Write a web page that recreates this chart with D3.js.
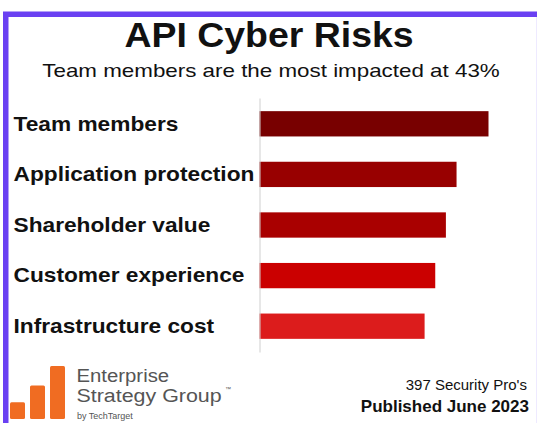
<!DOCTYPE html>
<html>
<head>
<meta charset="utf-8">
<script src="https://cdn.jsdelivr.net/npm/d3@7"></script>
<style>
  body { margin: 0; background: #fff; }
  svg { display: block; font-family: "Liberation Sans", Arial, sans-serif; }
</style>
</head>
<body>
<div id="chart"></div>
<script>
const width = 537;
const height = 423;

// chart data
const categories = ["Team members", "Application protection", "Shareholder value", "Customer experience", "Infrastructure cost"];
const values = [43, 37, 35, 33, 31];
const palette = ["#780000", "#980000", "#a90000", "#cb0000", "#dc1c1c"];

const title = "API Cyber Risks";
const subtitle = "Team members are the most impacted at 43%";
const sampleNote = "397 Security Pro's";
const published = "Published June 2023";
const logoLines = ["Enterprise", "Strategy Group"];

// logo bar heights (relative)
const logoBars = [0.95, 1.9, 3];

const svg = d3.select("#chart")
  .append("svg")
  .attr("width", width)
  .attr("height", height);

// text drawn with a horizontal stretch around its anchor point
function stretchedText(parent, tx, ty, sx, str) {
  return parent.append("text")
    .attr("transform", `translate(${tx},${ty}) scale(${sx},1)`)
    .text(str);
}

// frame: purple left and top border
svg.append("rect")
  .attr("x", 3).attr("y", 11.5)
  .attr("width", width).attr("height", height)
  .attr("fill", "#fff")
  .attr("stroke", "#6a40f2")
  .attr("stroke-width", 5.5)
  .attr("transform", "translate(2.75,2.75)");

svg.append("line")
  .attr("x1", 536.5).attr("x2", 536.5)
  .attr("y1", 17).attr("y2", height)
  .attr("stroke", "#eeeaff");

stretchedText(svg, 269, 47, 1.07, title)
  .attr("text-anchor", "middle")
  .attr("font-size", 35)
  .attr("font-weight", "bold")
  .attr("fill", "#111");

stretchedText(svg, 271, 76.5, 1.21, subtitle)
  .attr("text-anchor", "middle")
  .attr("font-size", 18.5)
  .attr("fill", "#111");

const x = d3.scaleLinear()
  .domain([0, 43])
  .range([0, 229]);

const y = d3.scaleBand()
  .domain(categories)
  .range([98, 352])
  .paddingInner(0.5)
  .paddingOuter(0.26);

const color = d3.scaleOrdinal()
  .domain(categories)
  .range(palette);

const x0 = 259.5;

svg.selectAll(".bar")
  .data(categories)
  .join("rect")
  .attr("class", "bar")
  .attr("x", x0)
  .attr("y", d => y(d))
  .attr("width", (d, i) => x(values[i]))
  .attr("height", y.bandwidth())
  .attr("fill", d => color(d));

// axis line
const axis = svg.append("g")
  .attr("transform", `translate(${x0},0)`)
  .call(d3.axisLeft(y).tickSize(0).tickSizeOuter(0).tickFormat(""));
axis.select(".domain").attr("stroke", "#cfcfcf");

const labels = svg.append("g");
categories.forEach(c => {
  stretchedText(labels, 13.5, y(c) + y.bandwidth() / 2, 1.165, c)
    .attr("dy", "0.35em")
    .attr("font-size", 19.5)
    .attr("font-weight", "bold")
    .attr("fill", "#111");
});

// ESG logo
const logoX = d3.scaleBand().domain(d3.range(logoBars.length)).range([10, 65]).paddingInner(0.25);
const logoY = d3.scaleLinear().domain([0, 3]).range([419, 366]);
svg.selectAll(".logo-bar")
  .data(logoBars)
  .join("rect")
  .attr("class", "logo-bar")
  .attr("x", (d, i) => logoX(i))
  .attr("y", d => logoY(d))
  .attr("width", logoX.bandwidth())
  .attr("height", d => logoY(0) - logoY(d))
  .attr("rx", 1.5)
  .attr("fill", "#f06c22");

const logo = svg.append("g").attr("fill", "#555");
logoLines.forEach((line, i) => {
  stretchedText(logo, 76.5, 381.5 + i * 20, i === 0 ? 1.13 : 1.19, line)
    .attr("font-size", 18);
});
logo.append("text").attr("x", 225).attr("y", 391).attr("font-size", 6).text("™");
logo.append("text").attr("x", 77).attr("y", 418.5).attr("font-size", 9).text("by TechTarget");

svg.append("text")
  .attr("x", 527).attr("y", 389.5)
  .attr("text-anchor", "end")
  .attr("font-size", 15)
  .attr("fill", "#111")
  .text(sampleNote);

svg.append("text")
  .attr("x", 529).attr("y", 412)
  .attr("text-anchor", "end")
  .attr("font-size", 17)
  .attr("font-weight", "bold")
  .attr("fill", "#111")
  .text(published);
</script>
</body>
</html>
